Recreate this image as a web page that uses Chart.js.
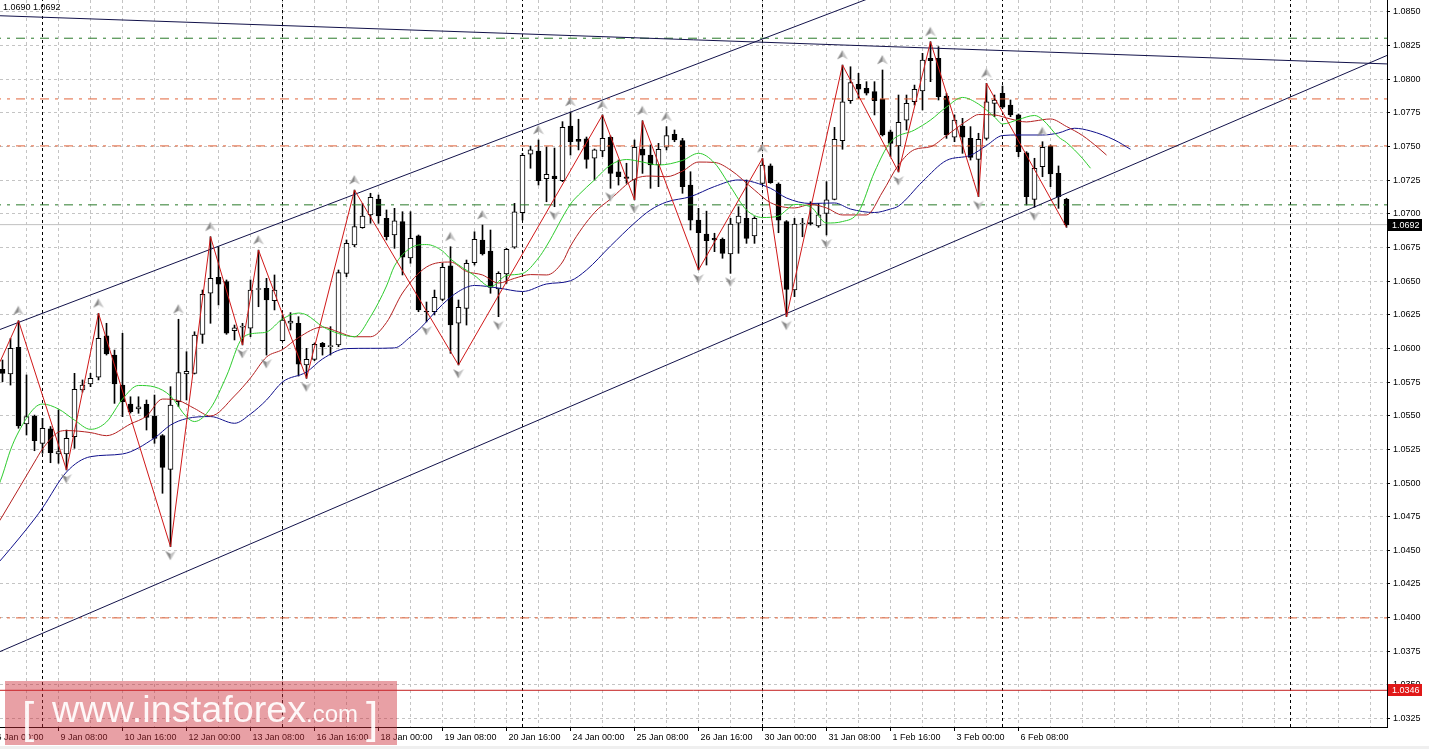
<!DOCTYPE html>
<html>
<head>
<meta charset="utf-8">
<title>EURUSD H4</title>
<script src="https://cdn.jsdelivr.net/npm/chart.js@4.4.1/dist/chart.umd.min.js"></script>
<style>
  html, body { margin: 0; padding: 0; background: #fff; }
  canvas { display: block; }
</style>
</head>
<body>
<canvas id="eurusd-chart" width="1429" height="749"></canvas>
<script>
// H4 bars, bar 0 = 9 Jan 00:00; first visible bar is -5
const firstBar = -5;

const opens = [
    1.05845, 1.05810, 1.06009, 1.05439, 1.05498, 1.05295, 1.05402, 1.05216, 1.05216, 1.05344,
    1.05691, 1.05736, 1.05786, 1.06093, 1.05951, 1.05728, 1.05587, 1.05550, 1.05585, 1.05498,
    1.05352, 1.05102, 1.05604, 1.05810, 1.05815, 1.06105, 1.06410, 1.06529, 1.06496, 1.06132,
    1.06159, 1.06150, 1.06438, 1.06447, 1.06355, 1.06058, 1.06187, 1.06187, 1.05877, 1.05919,
    1.06038, 1.06013, 1.06026, 1.06558, 1.06769, 1.06897, 1.06992, 1.07110, 1.06967, 1.06843,
    1.06942, 1.06672, 1.06836, 1.06278, 1.06273, 1.06365, 1.06613, 1.06187, 1.06298, 1.06637,
    1.06806, 1.06724, 1.06442, 1.06553, 1.06752, 1.07009, 1.07443, 1.07467, 1.07261, 1.07281,
    1.07246, 1.07653, 1.07554, 1.07558, 1.07413, 1.07467, 1.07569, 1.07313, 1.07276, 1.07252,
    1.07482, 1.07437, 1.07363, 1.07495, 1.07591, 1.07544, 1.07214, 1.06954, 1.06850, 1.06818,
    1.06811, 1.06702, 1.06930, 1.06967, 1.06836, 1.07227, 1.07356, 1.07222, 1.06942, 1.06434,
    1.06925, 1.06930, 1.06910, 1.07004, 1.07108, 1.07544, 1.07841, 1.07963, 1.07933, 1.07908,
    1.07853, 1.07610, 1.07504, 1.07697, 1.07833, 1.07913, 1.08156, 1.08156, 1.07876, 1.07569,
    1.07653, 1.07561, 1.07405, 1.07561, 1.07821, 1.07896, 1.07809, 1.07735, 1.07454, 1.07108,
    1.07350, 1.07504, 1.07301, 1.07108
];
const highs = [
    1.05914, 1.06075, 1.06206, 1.05803, 1.05505, 1.05481, 1.05420, 1.05543, 1.05394, 1.05815,
    1.05766, 1.05815, 1.06261, 1.06187, 1.05988, 1.06113, 1.05641, 1.05641, 1.05617, 1.05654,
    1.05360, 1.05716, 1.06217, 1.05976, 1.06124, 1.06434, 1.06830, 1.06756, 1.06509, 1.06174,
    1.06187, 1.06509, 1.06731, 1.06521, 1.06546, 1.06249, 1.06266, 1.06236, 1.06001, 1.06040,
    1.06045, 1.06162, 1.06583, 1.06806, 1.07177, 1.07078, 1.07153, 1.07140, 1.07029, 1.07041,
    1.07016, 1.07016, 1.06843, 1.06345, 1.06434, 1.06633, 1.06756, 1.06360, 1.06657, 1.06867,
    1.06917, 1.06880, 1.06570, 1.06744, 1.07078, 1.07450, 1.07504, 1.07549, 1.07497, 1.07489,
    1.07685, 1.07757, 1.07703, 1.07571, 1.07482, 1.07735, 1.07579, 1.07400, 1.07376, 1.07549,
    1.07692, 1.07512, 1.07524, 1.07648, 1.07623, 1.07561, 1.07313, 1.07041, 1.07020, 1.06856,
    1.06821, 1.06967, 1.07053, 1.07252, 1.06979, 1.07413, 1.07371, 1.07230, 1.06950, 1.06967,
    1.06967, 1.07090, 1.07078, 1.07239, 1.07643, 1.08106, 1.08093, 1.08044, 1.07982, 1.07982,
    1.08069, 1.07623, 1.07883, 1.07883, 1.07957, 1.08193, 1.08279, 1.08242, 1.07896, 1.07735,
    1.07710, 1.07648, 1.07599, 1.07970, 1.07883, 1.07950, 1.07846, 1.07742, 1.07462, 1.07413,
    1.07536, 1.07512, 1.07356, 1.07116
];
const lows = [
    1.05753, 1.05728, 1.05407, 1.05357, 1.05240, 1.05221, 1.05151, 1.05147, 1.05097, 1.05258,
    1.05676, 1.05716, 1.05766, 1.05951, 1.05592, 1.05493, 1.05520, 1.05518, 1.05394, 1.05295,
    1.04924, 1.04527, 1.05567, 1.05617, 1.05810, 1.06038, 1.06187, 1.06323, 1.06105, 1.06063,
    1.06026, 1.06087, 1.06310, 1.05951, 1.06286, 1.06055, 1.06137, 1.05795, 1.05778, 1.05909,
    1.05951, 1.05951, 1.06013, 1.06533, 1.06756, 1.06893, 1.06930, 1.06930, 1.06806, 1.06744,
    1.06546, 1.06633, 1.06273, 1.06197, 1.06249, 1.06355, 1.05964, 1.05877, 1.06174, 1.06620,
    1.06694, 1.06410, 1.06236, 1.06484, 1.06744, 1.06954, 1.07339, 1.07214, 1.07090, 1.07053,
    1.07239, 1.07437, 1.07475, 1.07339, 1.07252, 1.07425, 1.07190, 1.07214, 1.07227, 1.07104,
    1.07301, 1.07190, 1.07202, 1.07475, 1.07536, 1.07153, 1.06880, 1.06583, 1.06620, 1.06719,
    1.06670, 1.06558, 1.06707, 1.06781, 1.06781, 1.07222, 1.07227, 1.06860, 1.06236, 1.06385,
    1.06830, 1.06917, 1.06900, 1.06843, 1.07104, 1.07480, 1.07821, 1.07859, 1.07883, 1.07735,
    1.07579, 1.07425, 1.07311, 1.07623, 1.07809, 1.07772, 1.07982, 1.07846, 1.07561, 1.07536,
    1.07450, 1.07400, 1.07128, 1.07549, 1.07722, 1.07784, 1.07722, 1.07425, 1.07066, 1.07049,
    1.07276, 1.07202, 1.07041, 1.06900
];
const closes = [
    1.05815, 1.06001, 1.05424, 1.05493, 1.05315, 1.05407, 1.05225, 1.05233, 1.05332, 1.05696,
    1.05728, 1.05778, 1.06075, 1.05959, 1.05736, 1.05604, 1.05530, 1.05567, 1.05488, 1.05332,
    1.05117, 1.05580, 1.05820, 1.05830, 1.06100, 1.06402, 1.06521, 1.06477, 1.06113, 1.06154,
    1.06167, 1.06434, 1.06442, 1.06360, 1.06434, 1.06211, 1.06204, 1.05884, 1.05919, 1.06031,
    1.06013, 1.06018, 1.06563, 1.06781, 1.06905, 1.06984, 1.07123, 1.06984, 1.06830, 1.06949,
    1.06679, 1.06818, 1.06286, 1.06271, 1.06380, 1.06603, 1.06174, 1.06306, 1.06633, 1.06811,
    1.06702, 1.06454, 1.06558, 1.06737, 1.07016, 1.07435, 1.07475, 1.07246, 1.07294, 1.07261,
    1.07643, 1.07536, 1.07539, 1.07405, 1.07475, 1.07561, 1.07301, 1.07276, 1.07264, 1.07495,
    1.07437, 1.07363, 1.07480, 1.07581, 1.07549, 1.07202, 1.06954, 1.06860, 1.06801, 1.06806,
    1.06707, 1.06925, 1.06984, 1.06818, 1.06967, 1.07363, 1.07232, 1.06954, 1.06439, 1.06925,
    1.06932, 1.06928, 1.06992, 1.07104, 1.07554, 1.07833, 1.07975, 1.07926, 1.07896, 1.07841,
    1.07586, 1.07524, 1.07680, 1.07821, 1.07926, 1.08143, 1.08138, 1.07871, 1.07586, 1.07697,
    1.07569, 1.07420, 1.07554, 1.07833, 1.07846, 1.07792, 1.07735, 1.07462, 1.07128, 1.07339,
    1.07495, 1.07296, 1.07128, 1.06917
];

// Alligator (jaw / teeth / lips), already shifted forward
const jawBars = [-6, -5, -1, 0, 3, 6, 10, 14, 16, 18, 21, 24, 26, 28, 30, 33, 35, 38, 41, 44, 46, 47, 50, 52, 54, 57, 60, 63, 66, 68, 71, 74, 76, 78, 81, 84, 87, 91, 93, 96, 99, 101, 104, 106, 107, 110, 113, 116, 118, 120, 122, 125, 127, 129, 131, 134, 136];
const jawValues = [1.04376, 1.04443, 1.04733, 1.04815, 1.05082, 1.05196, 1.05216, 1.05335, 1.05431, 1.05479, 1.05494, 1.05444, 1.05513, 1.05617, 1.05751, 1.05825, 1.05922, 1.05999, 1.06001, 1.06004, 1.06087, 1.06137, 1.06327, 1.06423, 1.06468, 1.06449, 1.06423, 1.06479, 1.06503, 1.06583, 1.06761, 1.06932, 1.07029, 1.07088, 1.07128, 1.07203, 1.07252, 1.07190, 1.07118, 1.07077, 1.07081, 1.07036, 1.07010, 1.07036, 1.07058, 1.07240, 1.07397, 1.07435, 1.07508, 1.07582, 1.07586, 1.07586, 1.07601, 1.07636, 1.07616, 1.07549, 1.07480];

const teethBars = [-6, -5, -1, 0, 2, 3, 6, 8, 11, 13, 15, 17, 19, 21, 24, 26, 28, 30, 32, 35, 37, 39, 41, 43, 45, 48, 51, 53, 55, 57, 59, 61, 63, 65, 66, 69, 71, 74, 76, 78, 80, 82, 84, 86, 89, 91, 94, 96, 98, 100, 103, 105, 107, 109, 111, 113, 116, 117, 119, 121, 123, 124, 126, 128, 130, 132, 133];
const teethValues = [1.04660, 1.04755, 1.05156, 1.05253, 1.05379, 1.05390, 1.05375, 1.05352, 1.05439, 1.05498, 1.05624, 1.05613, 1.05554, 1.05498, 1.05647, 1.05781, 1.05936, 1.05992, 1.06081, 1.06159, 1.06122, 1.06087, 1.06087, 1.06193, 1.06412, 1.06605, 1.06642, 1.06572, 1.06546, 1.06486, 1.06521, 1.06549, 1.06546, 1.06642, 1.06761, 1.07010, 1.07110, 1.07259, 1.07281, 1.07276, 1.07318, 1.07385, 1.07382, 1.07326, 1.07177, 1.07083, 1.07044, 1.07070, 1.07044, 1.06992, 1.06992, 1.07162, 1.07363, 1.07478, 1.07499, 1.07582, 1.07709, 1.07738, 1.07735, 1.07705, 1.07683, 1.07690, 1.07705, 1.07649, 1.07582, 1.07489, 1.07437];

const lipsBars = [-6, -5, -4, -3, -1, 0, 2, 4, 6, 8, 10, 12, 14, 16, 18, 19, 21, 23, 25, 27, 28, 30, 32, 33, 35, 37, 39, 41, 43, 44, 46, 48, 50, 51, 54, 56, 58, 60, 62, 63, 66, 67, 69, 71, 73, 75, 77, 80, 82, 84, 86, 88, 90, 92, 93, 94, 96, 98, 100, 102, 104, 106, 109, 111, 113, 115, 117, 119, 120, 122, 124, 125, 127, 128, 130, 131];
const lipsValues = [1.04900, 1.05060, 1.05246, 1.05379, 1.05558, 1.05587, 1.05550, 1.05468, 1.05399, 1.05454, 1.05624, 1.05725, 1.05714, 1.05647, 1.05491, 1.05457, 1.05555, 1.05795, 1.06078, 1.06115, 1.06122, 1.06219, 1.06263, 1.06249, 1.06163, 1.06111, 1.06087, 1.06236, 1.06464, 1.06613, 1.06746, 1.06772, 1.06724, 1.06665, 1.06542, 1.06459, 1.06542, 1.06557, 1.06672, 1.06761, 1.07073, 1.07140, 1.07252, 1.07363, 1.07404, 1.07385, 1.07363, 1.07397, 1.07450, 1.07378, 1.07202, 1.07029, 1.06973, 1.06984, 1.07029, 1.07070, 1.07053, 1.06932, 1.06943, 1.07014, 1.07311, 1.07534, 1.07623, 1.07697, 1.07794, 1.07865, 1.07816, 1.07720, 1.07668, 1.07701, 1.07731, 1.07701, 1.07571, 1.07530, 1.07412, 1.07339];

// ZigZag turning points
const zigzagBars = [-5.3, -3, 3, 7, 16, 21, 25, 27, 33, 39, 52, 70, 74, 75, 82, 90, 93, 100, 107, 111, 117, 118, 128];
const zigzagValues = [1.05902, 1.06206, 1.05097, 1.06261, 1.04527, 1.06830, 1.06026, 1.06731, 1.05778, 1.07177, 1.05877, 1.07735, 1.07104, 1.07692, 1.06583, 1.07413, 1.06236, 1.08106, 1.07311, 1.08279, 1.07128, 1.07970, 1.06900];

// Fractals
const fractalUpBars = [-3, 7, 17, 21, 27, 39, 51, 55, 62, 66, 70, 75, 78, 90, 100, 105, 111, 118, 125];
const fractalDownBars = [3, 16, 25, 28, 33, 48, 52, 57, 64, 71, 74, 82, 86, 93, 98, 107, 117, 124];

// trend lines, [bar, price] at both ends
const topLine = [[-5.31, 1.08472], [168.06, 1.08114]];
const channelUpper = [[-5.31, 1.06141], [168.06, 1.10067]];
const channelLower = [[-5.31, 1.03748], [168.06, 1.08177]];

// horizontal levels
const greenLevels = [1.08305, 1.07067];
const orangeLevels = [1.07854, 1.07505, 1.03998];
const redLevel = 1.0346;
const bidPrice = 1.0692;

// week separators and the vertical line on the right
const separatorBars = [0, 30, 60, 90, 120, 156];

const timeLabelBars = [-6, 2, 10, 18, 26, 34, 42, 50, 58, 66, 74, 82, 90, 98, 106, 114, 122];
const timeLabels = ['6 Jan 00:00', '9 Jan 08:00', '10 Jan 16:00', '12 Jan 00:00', '13 Jan 08:00', '16 Jan 16:00',
    '18 Jan 00:00', '19 Jan 08:00', '20 Jan 16:00', '24 Jan 00:00', '25 Jan 08:00', '26 Jan 16:00',
    '30 Jan 00:00', '31 Jan 08:00', '1 Feb 16:00', '3 Feb 00:00', '6 Feb 08:00'];
const priceTicks = [1.0325, 1.0350, 1.0375, 1.0400, 1.0425, 1.0450, 1.0475, 1.0500, 1.0525, 1.0550, 1.0575,
    1.0600, 1.0625, 1.0650, 1.0675, 1.0700, 1.0725, 1.0750, 1.0775, 1.0800, 1.0825, 1.0850];

// view window: 8 px per bar
const xMin = -5.3125;
const xMax = 168.0625;
const yMin = 1.031874;
const yMax = 1.08589;

const gridBars = [];
for (let b = -6; b <= 168; b += 4) gridBars.push(b);

const font = '"Liberation Sans", Arial, sans-serif';

const bars = opens.map((o, k) => firstBar + k);
const toPoints = (xs, ys) => xs.map((x, k) => ({ x: x, y: ys[k] }));
const hline = (v) => [{ x: xMin - 1, y: v }, { x: xMax + 1, y: v }];

// no label overflow padding, the plot fills the canvas up to the axes
const noPadding = (scale) => {
    scale.paddingLeft = 0;
    scale.paddingRight = 0;
    scale.paddingTop = 0;
    scale.paddingBottom = 0;
};

function arrowImage(up) {
    const c = document.createElement('canvas');
    c.width = 12;
    c.height = 32;
    const g = c.getContext('2d');
    const cy = up ? 6 : 24.5;
    const s = up ? 1 : -1;
    const tip = [6, cy - 5 * s], notch = [6, cy + 1.5 * s];
    const left = [0.6, cy + 4.5 * s], right = [11.4, cy + 4.5 * s];
    g.fillStyle = '#8a8a8a';
    g.beginPath(); g.moveTo(tip[0], tip[1]); g.lineTo(left[0], left[1]); g.lineTo(notch[0], notch[1]); g.closePath(); g.fill();
    g.fillStyle = '#c4c4c4';
    g.beginPath(); g.moveTo(tip[0], tip[1]); g.lineTo(right[0], right[1]); g.lineTo(notch[0], notch[1]); g.closePath(); g.fill();
    return c;
}

const datasets = [];

// candles: wick bars and body bars
datasets.push({
    type: 'bar',
    data: bars.map((b, k) => ({ x: b, y: [lows[k], highs[k]] })),
    backgroundColor: '#000',
    borderWidth: 0,
    barThickness: 1,
    grouped: false,
    order: 40
});
datasets.push({
    type: 'bar',
    data: bars.map((b, k) => ({ x: b, y: [opens[k], closes[k]] })),
    backgroundColor: opens.map((o, k) => closes[k] >= o ? '#ffffff' : '#000000'),
    borderColor: '#000',
    borderWidth: 1,
    borderSkipped: false,
    barThickness: 5,
    minBarLength: 1,
    grouped: false,
    order: 39
});

// levels
greenLevels.forEach(v => datasets.push({
    type: 'line', data: hline(v), borderColor: '#2a7a2a', borderWidth: 1,
    borderDash: [9, 6, 3, 6], pointRadius: 0, order: 35
}));
orangeLevels.forEach(v => datasets.push({
    type: 'line', data: hline(v), borderColor: '#e2643a', borderWidth: 1,
    borderDash: [9, 6, 3, 6], pointRadius: 0, order: 35
}));
datasets.push({ type: 'line', data: hline(redLevel), borderColor: '#c41e1e', borderWidth: 1, pointRadius: 0, order: 35 });
datasets.push({ type: 'line', data: hline(bidPrice), borderColor: '#c0c0c0', borderWidth: 1, pointRadius: 0, order: 45 });

separatorBars.forEach(b => datasets.push({
    type: 'line', data: [{ x: b, y: yMin }, { x: b, y: yMax }], borderColor: '#000',
    borderWidth: 1, borderDash: [3, 3], pointRadius: 0, order: 50
}));

// trend lines
[topLine, channelUpper, channelLower].forEach(l => datasets.push({
    type: 'line', data: l.map(p => ({ x: p[0], y: p[1] })), borderColor: '#12124a',
    borderWidth: 1, pointRadius: 0, order: 30
}));

// alligator
datasets.push({ type: 'line', data: toPoints(jawBars, jawValues), borderColor: '#10108c', borderWidth: 1, pointRadius: 0, cubicInterpolationMode: 'monotone', order: 22 });
datasets.push({ type: 'line', data: toPoints(teethBars, teethValues), borderColor: '#b42020', borderWidth: 1, pointRadius: 0, cubicInterpolationMode: 'monotone', order: 21 });
datasets.push({ type: 'line', data: toPoints(lipsBars, lipsValues), borderColor: '#2ecc2e', borderWidth: 1, pointRadius: 0, cubicInterpolationMode: 'monotone', order: 20 });

// zigzag
datasets.push({ type: 'line', data: toPoints(zigzagBars, zigzagValues), borderColor: '#d01818', borderWidth: 1, pointRadius: 0, order: 10 });

// fractal arrows
const upArrow = arrowImage(true);
const downArrow = arrowImage(false);
datasets.push({
    type: 'line', showLine: false, order: 5, pointStyle: upArrow, pointRadius: 5,
    data: fractalUpBars.map(b => ({ x: b, y: highs[b - firstBar] }))
});
datasets.push({
    type: 'line', showLine: false, order: 5, pointStyle: downArrow, pointRadius: 5,
    data: fractalDownBars.map(b => ({ x: b, y: lows[b - firstBar] }))
});

// background, price boxes, header text and watermark
const decorations = {
    id: 'decorations',
    beforeDraw(chart) {
        const ctx = chart.ctx;
        ctx.save();
        ctx.fillStyle = '#ffffff';
        ctx.fillRect(0, 0, chart.width, chart.height);
        ctx.fillStyle = '#efefef';
        ctx.fillRect(0, 746, chart.width, 3);
        ctx.restore();
    },
    afterDraw(chart) {
        const ctx = chart.ctx;
        const y = chart.scales.y;
        ctx.save();

        const box = (v, text, bg) => {
            const py = Math.round(y.getPixelForValue(v));
            ctx.fillStyle = bg;
            ctx.fillRect(1388, py - 6, 34, 12);
            ctx.fillStyle = '#fff';
            ctx.font = '9px ' + font;
            ctx.textBaseline = 'middle';
            ctx.textAlign = 'left';
            ctx.fillText(text, 1392, py + 0.5);
        };
        box(bidPrice, bidPrice.toFixed(4), '#000');
        box(redLevel, redLevel.toFixed(4), '#e01818');

        ctx.fillStyle = '#000';
        ctx.font = '9px ' + font;
        ctx.textBaseline = 'alphabetic';
        ctx.fillText('1.0690 1.0692', 3, 9.5);

        // watermark
        ctx.fillStyle = 'rgba(204, 44, 55, 0.45)';
        ctx.fillRect(5, 681, 392, 64);
        ctx.fillStyle = 'rgba(255, 255, 255, 0.92)';
        ctx.font = '44px ' + font;
        ctx.fillText('[', 22, 733);
        ctx.fillText(']', 366, 733);
        ctx.save();
        ctx.translate(52, 722);
        ctx.scale(1.05, 1);
        ctx.font = '36px ' + font;
        ctx.fillText('www.instaforex', 0, 0);
        ctx.restore();
        ctx.font = '24px ' + font;
        ctx.fillText('.com', 306, 722);
        ctx.restore();
    }
};

new Chart(document.getElementById('eurusd-chart'), {
    type: 'bar',
    data: { datasets: datasets },
    options: {
        responsive: false,
        animation: false,
        devicePixelRatio: 1,
        events: [],
        layout: { padding: 0, autoPadding: false },
        plugins: { legend: { display: false }, tooltip: { enabled: false } },
        scales: {
            x: {
                type: 'linear',
                position: 'bottom',
                min: xMin,
                max: xMax,
                offset: false,
                afterBuildTicks: (scale) => { scale.ticks = gridBars.map(v => ({ value: v })); },
                afterFit: (scale) => { scale.height = 22; noPadding(scale); },
                grid: {
                    offset: false,
                    color: '#c4c4c4',
                    lineWidth: 1,
                    tickLength: 4,
                    tickColor: (c) => (c.tick && timeLabelBars.includes(c.tick.value)) ? '#000' : 'rgba(0,0,0,0)'
                },
                border: { display: true, color: '#000', width: 1, dash: [3, 3] },
                ticks: {
                    autoSkip: false,
                    maxRotation: 0,
                    align: 'start',
                    labelOffset: 2,
                    padding: 1,
                    color: '#000',
                    font: { family: font, size: 9 },
                    callback: (value) => {
                        const k = timeLabelBars.indexOf(value);
                        return k >= 0 ? timeLabels[k] : '';
                    }
                }
            },
            y: {
                type: 'linear',
                position: 'right',
                min: yMin,
                max: yMax,
                afterBuildTicks: (scale) => { scale.ticks = priceTicks.map(v => ({ value: v })); },
                afterFit: (scale) => { scale.width = 42; noPadding(scale); },
                grid: { color: '#c4c4c4', lineWidth: 1, tickLength: 3, tickColor: '#000' },
                border: { display: true, color: '#000', width: 1, dash: [3, 3] },
                ticks: {
                    padding: 3,
                    color: '#000',
                    font: { family: font, size: 9 },
                    callback: (value) => value.toFixed(4)
                }
            }
        }
    },
    plugins: [decorations]
});
</script>
</body>
</html>
